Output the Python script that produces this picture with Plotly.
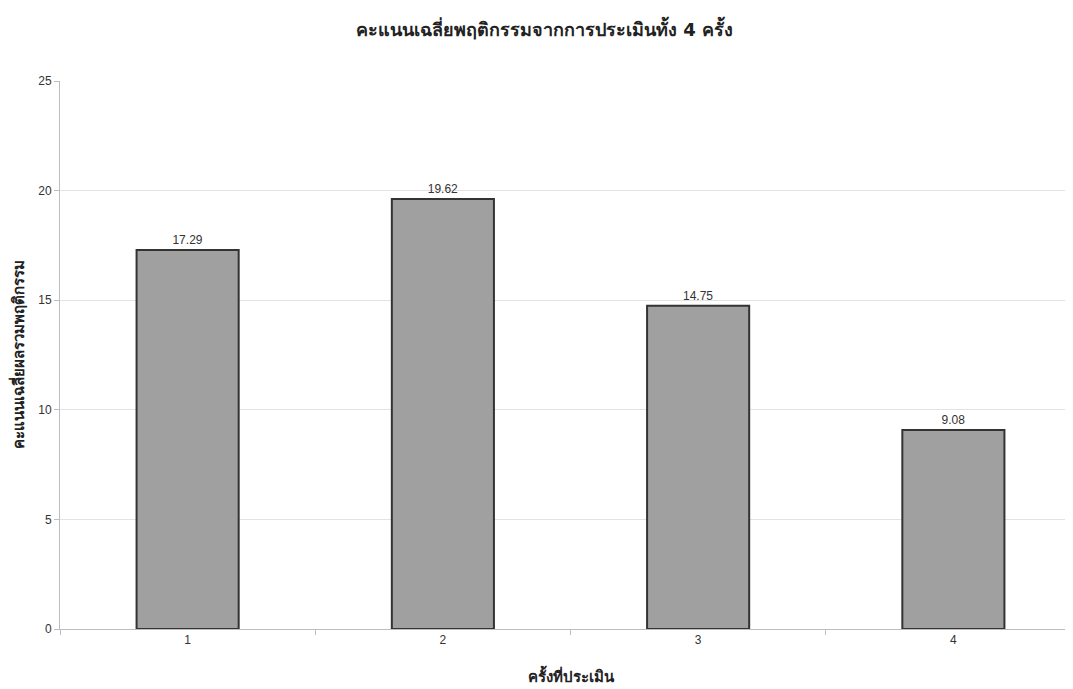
import plotly.graph_objects as go

categories = ["1", "2", "3", "4"]
values = [17.29, 19.62, 14.75, 9.08]
value_labels = ["17.29", "19.62", "14.75", "9.08"]
y_ticks = [0, 5, 10, 15, 20, 25]

title_text = "คะแนนเฉลี่ยพฤติกรรมจากการประเมินทั้ง 4 ครั้ง"
x_title = "ครั้งที่ประเมิน"
y_title = "คะแนนเฉลี่ยผลรวมพฤติกรรม"

thai_font = "Tahoma, DejaVu Sans, Noto Sans, sans-serif"
num_font = "Arial, Liberation Sans, sans-serif"

fig = go.Figure()
fig.add_trace(go.Bar(
    x=categories,
    y=values,
    width=0.4,
    marker=dict(color="#a0a0a0", line=dict(color="#333333", width=2)),
    text=value_labels,
    textposition="outside",
    textfont=dict(family=num_font, size=12, color="#333333"),
    cliponaxis=False,
))

fig.update_layout(
    width=1073,
    height=689,
    paper_bgcolor="white",
    plot_bgcolor="white",
    margin=dict(l=52, r=0, t=73, b=68),
    showlegend=False,
    title=dict(
        text="<b>" + title_text + "</b>",
        x=0.5, xanchor="center",
        y=1 - 22 / 689, yanchor="middle",
        font=dict(family=thai_font, size=18, color="#222222"),
    ),
    xaxis=dict(
        type="category",
        range=[-0.5, 3.5],
        tickson="boundaries",
        ticks="outside",
        ticklen=5,
        tickcolor="#bdbdbd",
        showgrid=False,
        showline=True,
        linecolor="#bdbdbd",
        linewidth=1,
        tickfont=dict(family=num_font, size=12, color="#333333"),
        title=dict(
            text="<b>" + x_title + "</b>",
            standoff=25,
            font=dict(family=thai_font, size=15, color="#222222"),
        ),
    ),
    yaxis=dict(
        range=[0, 25],
        tickvals=y_ticks,
        ticks="outside",
        ticklen=5,
        tickcolor="#bdbdbd",
        showgrid=True,
        gridcolor="#e3e3e3",
        gridwidth=1,
        showline=True,
        linecolor="#bdbdbd",
        linewidth=1,
        zeroline=False,
        tickfont=dict(family=num_font, size=12, color="#333333"),
        title=dict(
            text="<b>" + y_title + "</b>",
            standoff=18,
            font=dict(family=thai_font, size=15, color="#222222"),
        ),
    ),
)

fig.write_html("out.html")
